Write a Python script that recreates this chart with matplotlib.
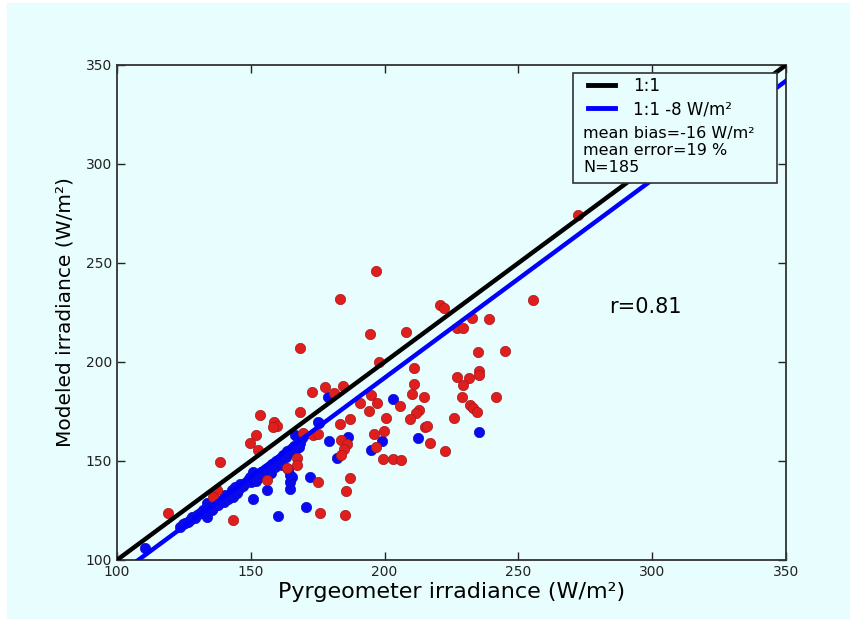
import matplotlib
matplotlib.use("Agg")
import matplotlib.pyplot as plt
from matplotlib.lines import Line2D
from matplotlib.patches import Rectangle

# red points (pyrgeometer, modeled)
red_x = [196.8, 183.3, 194.5, 208.0, 220.7, 222.2, 232.8, 239.0, 226.9, 229.4,
         235.0, 244.9, 197.9, 211.0, 227.2, 231.7, 235.4, 235.4, 229.4, 211.1,
         210.1, 214.7, 228.8, 241.5, 231.9, 233.2, 234.6, 212.7, 211.7, 209.5,
         225.8, 215.1, 216.0, 217.1, 222.4, 172.9, 177.7, 181.2, 184.6, 194.8,
         190.8, 197.0, 194.0, 205.8, 200.4, 187.2, 183.3, 168.4, 173.4, 175.2,
         183.6, 185.8, 184.9, 183.7, 196.0, 199.8, 196.8, 199.3, 203.0, 206.0,
         187.1, 272.3, 255.6, 168.4, 153.4, 158.7, 159.7, 158.2, 151.9, 149.7,
         152.8, 155.9, 175.2, 185.6, 175.9, 185.2, 138.5, 137.3, 135.7, 163.4,
         167.2, 167.4, 143.5, 118.9, 169.6]
red_y = [246.0, 231.7, 214.3, 215.3, 228.8, 227.1, 222.4, 221.7, 217.0, 217.3,
         204.9, 205.7, 200.2, 196.8, 192.6, 191.8, 195.5, 193.3, 188.2, 188.9,
         183.8, 182.5, 182.2, 182.5, 178.3, 176.6, 174.9, 175.8, 174.1, 171.1,
         171.9, 167.0, 167.7, 159.2, 155.2, 185.0, 187.2, 184.5, 188.0, 183.5,
         179.1, 179.5, 175.4, 178.0, 171.7, 171.2, 168.5, 174.9, 163.1, 163.6,
         160.6, 158.6, 155.9, 153.0, 163.5, 165.3, 157.2, 151.2, 150.9, 150.4,
         141.3, 274.2, 231.3, 206.9, 173.2, 169.8, 167.7, 167.0, 163.1, 158.9,
         155.6, 140.4, 139.5, 135.0, 123.9, 122.7, 149.6, 135.4, 132.0, 146.3,
         151.4, 148.0, 120.2, 123.9, 164.0]

# blue points
blue_x = [235.3, 179.0, 203.0, 175.4, 179.2, 186.2, 182.3, 198.9, 194.9, 212.6,
          172.1, 166.5, 168.4, 167.8, 164.0, 165.3, 164.6, 164.6, 155.9, 150.9,
          170.6, 160.3, 133.5, 110.6, 164.6, 175.2,
          123.5, 124.5, 125.4, 126.5, 127.3, 128.2, 129.1, 130.0, 131.0, 132.2,
          133.0, 133.5, 134.8, 135.5, 136.0, 137.0, 137.9, 139.1, 140.0, 140.4,
          141.5, 142.9, 143.5, 144.1, 144.7, 145.5, 146.0, 147.0, 148.0, 149.0,
          149.7, 150.0, 150.9, 151.0, 152.0, 152.5, 153.0, 154.0, 155.0, 155.5,
          156.0, 157.0, 157.5, 158.0, 159.0, 159.5, 160.0, 161.0, 161.5, 162.0,
          163.0, 163.5, 164.0, 165.0, 166.0, 167.0, 168.0, 169.0, 170.0]
blue_y = [164.6, 182.5, 181.1, 169.3, 160.1, 162.3, 151.4, 160.3, 155.6, 161.8,
          141.8, 163.1, 158.9, 161.5, 145.8, 142.1, 139.5, 135.7, 135.4, 130.7,
          126.9, 122.4, 121.6, 105.9, 142.9, 169.8,
          116.8, 118.0, 118.5, 119.0, 120.2, 121.5, 121.1, 122.5, 123.6, 125.3,
          124.0, 128.6, 126.9, 125.0, 126.1, 128.5, 127.8, 130.3, 129.5, 132.8,
          131.0, 135.4, 132.0, 137.0, 133.7, 136.0, 138.5, 137.5, 139.0, 140.5,
          142.1, 139.5, 144.6, 141.0, 140.0, 143.0, 142.0, 144.5, 143.0, 146.0,
          145.0, 147.0, 144.0, 148.5, 147.0, 150.0, 149.0, 151.0, 148.0, 153.0,
          152.0, 155.0, 154.0, 156.0, 157.5, 156.0, 157.0, 161.5, 163.0]

lims = [100, 350]
offset = -8
ticks = [100, 150, 200, 250, 300, 350]

bg = '#e8fdfd'

fig = plt.figure(figsize=(8.57, 6.2), dpi=100)
fig.patch.set_facecolor('white')
fig.add_artist(Rectangle((7 / 857, 2 / 620), 842 / 857, 615 / 620,
                         transform=fig.transFigure, color=bg, zorder=-10))
ax = fig.add_axes([0.1365, 0.0968, 0.7807, 0.7984])
ax.set_facecolor(bg)

ax.scatter(blue_x, blue_y, s=55, color='#0a0af2', edgecolors='#0a0ac8',
           linewidths=0.5, zorder=2)
ax.scatter(red_x, red_y, s=55, color='#e01e1e', edgecolors='#a31818',
           linewidths=0.5, zorder=3)

ax.plot(lims, lims, color='black', lw=3.2, zorder=4)
ax.plot(lims, [v + offset for v in lims], color='#0000ff', lw=3.2, zorder=4)

ax.set_xlim(lims)
ax.set_ylim(lims)
ax.set_xticks(ticks)
ax.set_yticks(ticks)
ax.tick_params(direction='in', top=True, right=True, length=6, width=1,
               labelsize=10, colors='#222222')
for sp in ax.spines.values():
    sp.set_color('#333333')
    sp.set_linewidth(1.3)

ax.set_xlabel('Pyrgeometer irradiance (W/m²)', fontsize=16, labelpad=2)
ax.set_ylabel('Modeled irradiance (W/m²)', fontsize=14.5, labelpad=8)

ax.text(284, 228, 'r=0.81', fontsize=15, va='center', ha='left')

# legend box with extra stats
handles = [Line2D([], [], color='black', lw=3.5),
           Line2D([], [], color='#0000ff', lw=3.5)]
ax.legend(handles, ['1:1', '1:1 -8 W/m²'], loc='upper left',
          bbox_to_anchor=(0.682, 1.006), frameon=False, fontsize=12,
          handlelength=1.6, handletextpad=1.1, labelspacing=0.3)
ax.text(0.697, 0.877, 'mean bias=-16 W/m²\nmean error=19 %\nN=185',
        transform=ax.transAxes, fontsize=11.5, va='top', ha='left',
        linespacing=1.18)
ax.add_patch(Rectangle((0.682, 0.762), 0.305, 0.222, transform=ax.transAxes,
                       facecolor=bg, edgecolor='#333333', lw=1.2, zorder=5))
for t in ax.texts:
    t.set_zorder(6)
ax.get_legend().set_zorder(7)

fig.savefig('out.png', dpi=100, facecolor=fig.get_facecolor())
